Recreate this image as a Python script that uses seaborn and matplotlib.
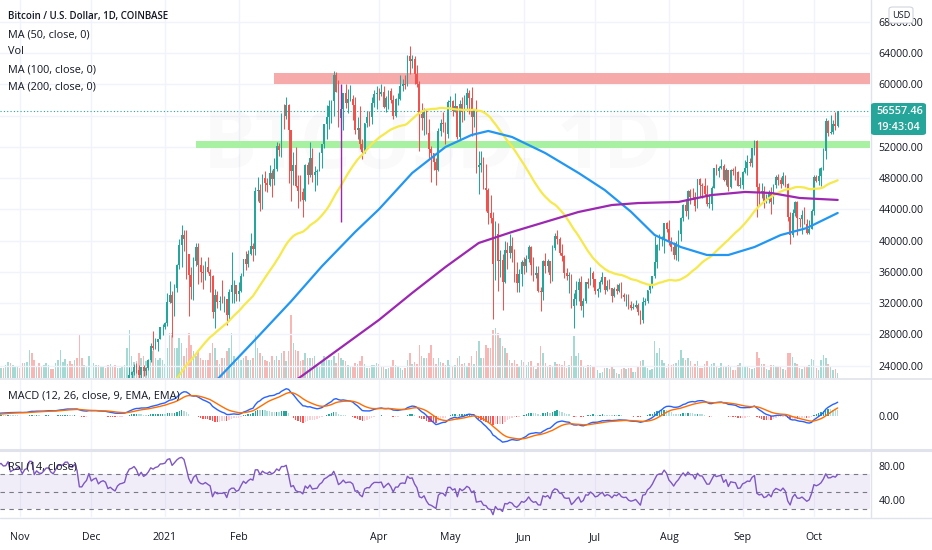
import numpy as np
import pandas as pd
import matplotlib
matplotlib.use("Agg")
import matplotlib.pyplot as plt
import matplotlib.dates as mdates
from matplotlib.patches import Rectangle, FancyBboxPatch
from matplotlib.lines import Line2D
import seaborn as sns

# ---------------- data (daily candles, Coinbase BTC/USD) ----------------
START_DATE = "2020-10-01"
FIRST_OPEN = 10790.0

close_2020_10 = [10620,10570,10550,10670,10790,10600,10670,10920,11060,11300,
                 11380,11540,11430,11430,11510,11330,11370,11510,11750,11920,
                 12820,12990,12930,13120,13040,13070,13650,13280,13460,13560,13800]
high_2020_10 = [10920,10670,10600,10690,10800,10800,10680,10940,11100,11490,
                11440,11710,11560,11560,11630,11540,11400,11520,11800,11990,
                13200,13190,13030,13160,13330,13250,13790,13850,13630,13650,14070]
low_2020_10 = [10430,10380,10500,10530,10650,10540,10560,10650,10830,11000,
               11240,11220,11280,11260,11270,11230,11220,11330,11400,11690,
               11900,12700,12740,12900,12900,12780,13050,12950,12990,13110,13500]
vol_2020_10 = [12,11,9,8,10,11,10,12,12,9, 8,11,12,10,10,11,8,7,11,13,
               20,16,13,10,10,13,16,15,13,12,11]

close_2020_11 = [13760,13560,14030,14160,15590,15580,14830,15480,15330,15300,
                 15700,16290,16330,16070,15960,16730,17660,17800,17810,18680,
                 18700,18420,18370,19160,18730,17150,17140,17720,18180,19700]
high_2020_11 = [13880,13830,14070,14240,15760,15990,15770,15650,15830,15480,
                15960,16340,16480,16340,16170,16880,17860,18480,18150,18820,
                18960,18750,18770,19410,19480,19080,17450,18210,18350,19860]
low_2020_11 = [13580,13230,13530,13600,14130,15190,14350,14730,14840,15100,
               15270,15470,15970,15720,15770,15870,16550,17220,17350,17760,
               18330,17610,18000,18060,18600,16330,16500,16880,17530,18180]
vol_2020_11 = [10,15,15,16,28,25,18,11,15,12, 13,15,13,9,9,15,18,28,16,19,
               14,17,14,18,20,43,20,13,11,22]

close_2020_12 = [18790,19220,19450,18700,19150,19360,19170,18320,18550,18250,
                 18030,18800,19170,19270,19440,21340,22800,23130,23860,23480,
                 22730,23820,23250,23720,24690,26440,26250,27040,27370,28890,28990]
high_2020_12 = [19920,19320,19590,19540,19180,19420,19420,19300,18640,18560,
                18300,18950,19420,19350,19570,21500,23770,23290,24170,24300,
                24100,23840,24100,23800,24800,26870,28420,27500,27400,28990,29310]
low_2020_12 = [18120,18580,18900,18590,18520,18920,18900,18200,17620,17950,
               17570,18000,18700,19000,19050,19280,21220,22350,22800,23060,
               21900,22370,22670,22740,23450,24500,25950,26100,25900,27340,27850]
vol_2020_12 = [27,15,13,13,12,11,10,13,14,12, 13,10,10,12,13,30,48,22,16,17,
               25,20,22,17,13,22,27,20,18,20,18]

close_2021_01 = [29410,32190,33000,31990,33950,36840,39470,40670,40240,38240,
                 35550,34010,37390,39150,36830,36030,35820,36630,36020,35470,
                 30850,33010,32100,32290,32260,32510,30430,33420,34270,34320,33110]
high_2021_01 = [29600,33300,34800,33600,34500,36950,40200,41950,41400,41400,
                38300,36600,37850,39700,39650,37900,36850,37400,37850,36400,
                35600,33850,33500,32950,34900,32950,32570,33750,38500,34900,34350]
low_2021_01 = [28700,29000,31990,27700,30400,33390,36300,36600,38700,35100,
               30300,32500,32400,36700,34400,34700,33850,34900,35900,33400,
               30100,28850,31400,31050,31950,30850,29250,29850,31950,32000,32200]
vol_2021_01 = [14,30,45,45,30,30,40,35,22,30, 45,33,27,22,27,20,18,18,18,25,
               35,30,18,14,20,20,27,30,45,22,16]

close_2021_02 = [33530,35510,37660,36950,38300,39260,38900,46400,46490,44840,
                 47980,47380,47160,48590,47930,49180,52160,51630,55920,55910,
                 57410,54120,48890,49680,47020,46300,46200,45160]
high_2021_02 = [34700,35900,37700,38600,38750,40950,39700,46800,48200,47300,
                48500,48900,48000,49700,49000,50600,52600,52500,56300,57500,
                58350,57500,54200,51400,51950,48400,48400,46700]
low_2021_02 = [32300,33400,35400,36200,36600,38200,37400,38200,45000,43750,
               44000,46300,46200,47000,45600,47100,48900,50800,50700,54300,
               55600,47400,45000,47100,46800,44150,45100,43000]
vol_2021_02 = [20,18,20,22,18,18,20,43,30,25, 22,18,17,16,22,18,22,18,25,27,
               17,27,63,35,28,27,17,18]

close_2021_03 = [49620,48420,50540,48420,48760,48900,51200,52320,54900,55850,
                 57290,57830,61190,59000,55630,56820,58870,57650,58070,58130,
                 57380,54110,54370,52300,51310,55070,55840,55780,57630,58770,58800]
high_2021_03 = [49800,50100,52600,51800,49500,49200,51400,52400,54900,57400,
                58000,58000,61700,61600,60600,56900,58950,60100,59400,59900,
                58600,58400,55800,57200,53000,55100,56600,56600,58400,59300,59800]
low_2021_03 = [45000,47200,48100,47500,46300,47100,48900,49300,51850,53050,
               54300,55100,55900,59000,54600,53300,54150,57000,56300,57900,
               55450,53700,53000,51700,50400,51250,54500,54700,54950,57100,56900]
vol_2021_03 = [25,20,20,20,22,14,12,17,22,18, 18,18,22,15,25,20,18,17,13,12,
               12,15,14,17,22,14,10,10,13,13,15]

close_2021_04 = [58740,58970,57070,58210,59120,57990,56000,58090,58090,59770,
                 59990,59860,63580,62960,63220,61370,60080,56250,55720,56480,
                 53800,51700,51150,50110,49070,54020,55040,54860,53580,57750]
high_2021_04 = [59500,60100,59800,58500,59300,59500,58700,58200,58900,61200,
                60700,61200,63800,64900,63800,63600,62500,60400,57600,57000,
                56800,55500,52100,51200,50600,54400,55500,56400,55200,57950]
low_2021_04 = [57950,58450,57000,56450,56800,57600,55500,55800,57300,58050,
               59200,59450,59850,61300,62050,60000,59600,51500,54200,53500,
               53600,50500,47500,49000,47050,48850,53350,53900,52400,53100]
vol_2021_04 = [14,12,12,9,10,12,18,13,11,10, 8,10,18,25,14,16,14,33,22,20,
               20,25,33,20,14,20,16,15,13,18]

close_2021_05 = [57830,56610,57210,53240,57500,56440,57380,58930,58270,55860,
                 56750,49470,49700,49920,46780,46450,43550,42920,37000,40780,
                 37320,37520,34720,38800,38360,39290,38450,35690,34620,35680,37310]
high_2021_05 = [58500,57950,58950,57250,58000,58400,58650,59550,59300,59600,
                56900,58000,51450,51500,50700,49800,46700,45800,43600,42500,
                42200,38800,38300,39950,39800,40900,40400,38900,37250,36400,37500]
low_2021_05 = [56900,56000,56500,53000,52900,55200,55400,56900,56200,53400,
               54500,48700,46000,48800,46600,43800,42100,42200,30000,35000,
               33500,35300,31100,34600,36400,37800,37200,34700,33400,33450,34200]
vol_2021_05 = [13,12,13,20,22,14,15,12,15,22, 14,27,37,20,20,33,30,30,48,50,
               45,40,32,30,25,18,15,18,14,11,18]

close_2021_06 = [36690,37580,39190,36880,35530,35800,33590,33400,37390,36690,
                 37340,35550,39100,40530,40150,38350,38060,35820,35490,35620,
                 31640,32510,33690,34660,31590,32250,34650,34470,35870,35040]
high_2021_06 = [37900,38200,39450,39250,37900,36800,36750,34050,37550,38400,
                37650,37400,39400,41000,41300,40500,39550,38200,36450,36000,
                35750,33300,34850,35200,35450,32700,34700,35250,36600,36100]
low_2021_06 = [35700,35950,37200,35600,34800,35250,33400,31000,32400,35800,
               36000,34600,34800,38750,39500,38100,37400,35200,34900,33300,
               31300,28800,31700,32300,31050,30150,32050,33950,34300,34050]
vol_2021_06 = [16,13,16,17,12,9,15,32,25,15, 12,13,12,16,14,14,13,17,10,13,
               22,42,22,25,18,11,10,13,13,11]

close_2021_07 = [33520,33800,34690,35290,33690,34230,33860,32880,33810,33510,
                 34260,33090,32730,32820,31780,31390,31530,31780,30840,29790,
                 32140,32290,33640,34270,35410,37280,39460,40020,40020,42210,41490]
high_2021_07 = [35050,33900,34950,35950,35300,35000,35050,33900,34050,34400,
                34600,34650,33300,33100,33150,32200,31950,32400,31950,31100,
                32800,32600,33650,34500,35450,40550,39500,40900,40600,42300,42400]
low_2021_07 = [33100,32800,33400,34450,33200,33550,33750,32150,32800,33100,
               33350,32700,32250,31650,31200,31100,31200,31350,30450,29300,
               29500,31750,32050,33250,33900,35200,36450,38800,39300,38400,41050]
vol_2021_07 = [12,8,5,6,10,10,9,12,9,5, 4,9,10,9,10,10,6,6,11,17,
               18,12,10,8,9,37,25,30,18,15,10]

close_2021_08 = [39860,39150,38200,39720,40870,42840,44610,43820,46290,45590,
                 45560,44430,47830,47100,47040,45940,44690,44740,46760,49340,
                 48900,49320,49550,47710,48970,46860,49080,48900,48800,46990,47150]
high_2021_08 = [42600,40450,39750,39950,41400,43000,44700,45300,46450,46650,
                46750,46200,47900,48000,47400,48050,47150,46000,47000,49350,
                49800,49500,50500,49850,49250,49000,49200,49300,49600,48900,48200]
low_2021_08 = [39450,38700,37600,37500,37350,39900,42450,43100,42800,44700,
               45350,43800,44200,45600,45500,45750,44400,44200,43950,46700,
               48350,48100,49100,47600,47150,46400,46700,48450,47800,46950,46750]
vol_2021_08 = [14,13,14,15,18,28,20,18,20,17, 12,14,17,10,10,14,17,12,14,15,
               12,10,15,12,12,13,12,8,8,13,15]

close_2021_09 = [48840,49280,50040,49940,51790,52700,46860,46080,46400,44850,
                 45160,46060,44960,47110,48130,47760,47300,48310,47260,43010,
                 40700,43570,44890,42830,42720,43210,42170,41030,41520,43790]
high_2021_09 = [48950,50350,51000,50550,51900,52850,52900,47350,47350,47000,
                45900,46450,46850,47250,48450,48500,48150,48800,48350,47350,
                43600,44000,45000,45000,42950,43900,44300,42800,42600,44100]
low_2021_09 = [46550,48600,48350,49500,49400,50950,43000,44400,45500,44200,
               44800,44750,43400,44700,46700,47050,46750,47050,46850,42500,
               39600,40500,43100,40700,41700,40800,42100,40900,40800,41450]
vol_2021_09 = [12,12,12,10,9,10,26,20,14,14, 9,8,13,13,11,12,11,9,8,25,
               25,21,15,14,10,9,11,12,13,19]

close_2021_10 = [48120,47650,48230,49250,51490,55340,53800,53950,54950,54670,56557.46]
high_2021_10 = [48450,48350,49300,49450,51850,55750,55400,56100,55450,56500,56650]
low_2021_10 = [43300,47450,47150,46950,49050,50450,53400,53700,53700,54100,54500]
vol_2021_10 = [18,10,8,18,23,20,14,12,8,9,5]

# moving-average lines (sample dates / values)
ma100_dates = ["2021-01-15","2021-01-24","2021-02-07","2021-02-23","2021-03-08",
               "2021-03-22","2021-04-01","2021-04-15","2021-04-29","2021-05-10",
               "2021-05-17","2021-05-27","2021-06-10","2021-06-24","2021-07-05",
               "2021-07-16","2021-07-26","2021-08-06","2021-08-17","2021-08-26",
               "2021-09-06","2021-09-17","2021-09-28","2021-10-11"]
ma100_vals = [19600,22530,27000,32200,36700,41100,44000,48650,51980,53520,
              54030,53260,51200,48650,46470,43700,40710,39170,38150,38150,
              39170,40700,41600,43530]
ma200_dates = ["2021-02-15","2021-02-27","2021-04-01","2021-04-15","2021-04-29",
               "2021-05-13","2021-05-27","2021-06-10","2021-06-24","2021-07-08",
               "2021-07-19","2021-08-05","2021-08-19","2021-09-02","2021-09-13",
               "2021-09-25","2021-10-11"]
ma200_vals = [20000,22530,29830,33290,36610,39690,41100,42380,43660,44550,
              44800,44940,45830,46220,46090,45450,45200]

# drawn objects
red_zone = ("2021-02-16", 60000, 61500)
green_zone = ("2021-01-14", 51900, 52800)
vline_drawing = ("2021-03-16", 42400, 60000)
last_price = 56557.46
countdown = "19:43:04"

month_ticks = ["2020-11-01","2020-12-01","2021-01-01","2021-02-01","2021-04-01",
               "2021-05-01","2021-06-01","2021-07-01","2021-08-01","2021-09-01","2021-10-01"]
month_labels = ["Nov","Dec","2021","Feb","Apr","May","Jun","Jul","Aug","Sep","Oct"]
price_ticks = [24000,28000,32000,36000,40000,44000,48000,52000,56000,60000,64000,68000]
hidden_price_labels = [56000]   # covered by the last-price tag on the chart

# ---------------- assemble ----------------
months = ["2020_10","2020_11","2020_12","2021_01","2021_02","2021_03","2021_04",
          "2021_05","2021_06","2021_07","2021_08","2021_09","2021_10"]
g = globals()
for m in months:
    assert len(g["close_"+m]) == len(g["high_"+m]) == len(g["low_"+m]) == len(g["vol_"+m]), m
closes = np.array(sum([g["close_"+m] for m in months], []), float)
highs = np.array(sum([g["high_"+m] for m in months], []), float)
lows = np.array(sum([g["low_"+m] for m in months], []), float)
vols = np.array(sum([g["vol_"+m] for m in months], []), float)
dates = pd.date_range(START_DATE, periods=len(closes), freq="D")
opens = np.concatenate([[FIRST_OPEN], closes[:-1]])
xn = mdates.date2num(dates)

s_close = pd.Series(closes, index=dates)
ma50 = s_close.rolling(50).mean()
ema12 = s_close.ewm(span=12, adjust=False).mean()
ema26 = s_close.ewm(span=26, adjust=False).mean()
macd = ema12 - ema26
signal = macd.ewm(span=9, adjust=False).mean()
hist = macd - signal
delta = s_close.diff()
up = delta.clip(lower=0).ewm(alpha=1/14, adjust=False).mean()
dn = (-delta.clip(upper=0)).ewm(alpha=1/14, adjust=False).mean()
rsi = 100 - 100 / (1 + up / dn)

# ---------------- style ----------------
sns.set_theme(style="white")
plt.rcParams['font.family'] = ['Open Sans', 'DejaVu Sans']
TXT = "#131722"
UP, DOWN = "#26A69A", "#EF5350"
GRID = "#F0F3FA"
SEP = "#E0E3EB"

W, H = 932, 550
fig = plt.figure(figsize=(W / 100, H / 100), dpi=100)
fig.patch.set_facecolor("white")

def add_ax(l, t, r, b):
    return fig.add_axes([l / W, 1 - b / H, (r - l) / W, (b - t) / H])

ax = add_ax(0, 0, 870, 378)
axv = ax.twinx()
axm = add_ax(0, 380, 870, 449)
axr = add_ax(0, 451, 870, 517)

nov1 = mdates.date2num(pd.Timestamp("2020-11-01"))
xlim = (nov1 - 8.4, nov1 + 357.6)
mt = mdates.date2num(pd.to_datetime(month_ticks))

for a in (ax, axv, axm, axr):
    a.set_xlim(*xlim)
    for sp in a.spines.values():
        sp.set_visible(False)
    a.tick_params(axis="x", bottom=False, labelbottom=False)
for a in (ax, axm, axr):
    for m in mt:
        a.axvline(m, color=GRID, lw=1, zorder=0)
    a.tick_params(axis="y", left=False, labelleft=False, right=True, labelright=True,
                  length=0, pad=6, labelsize=7.6, labelcolor=TXT)

# ---- main price panel ----
ax.set_ylim(22400, 70800)
ax.set_yticks(price_ticks)
ax.set_yticklabels(["" if v in hidden_price_labels else f"{v:.2f}" for v in price_ticks])
for p in price_ticks:
    ax.axhline(p, color=GRID, lw=1, zorder=0)

# volume (twin, bottom of pane)
is_up = closes >= opens
vcol = np.where(is_up, "#26A69A", "#EF5350")
axv.bar(xn, vols, width=0.65, color=vcol, alpha=0.42, linewidth=0)
axv.set_ylim(0, 378)
axv.set_yticks([])
axv.tick_params(axis="y", right=False, labelright=False)
ax.set_zorder(axv.get_zorder() + 1)
ax.patch.set_visible(False)

# zones
for (d0, y0, y1), col in ((red_zone, "#F7AAAA"), (green_zone, "#A8F0A2")):
    x0 = mdates.date2num(pd.Timestamp(d0))
    ax.add_patch(Rectangle((x0, y0), xlim[1] - x0, y1 - y0, facecolor=col,
                           edgecolor="none", zorder=1))

# faint watermark
ax.text(0.497, 0.61, "BTCUSD, 1D", transform=ax.transAxes, ha="center", va="center",
        fontsize=58, color=TXT, alpha=0.018, fontweight="bold", zorder=0)

# candles
ccol = np.where(is_up, UP, DOWN)
wick_lo = np.minimum(lows, np.minimum(opens, closes))
wick_hi = np.maximum(highs, np.maximum(opens, closes))
ax.vlines(xn, wick_lo, wick_hi, colors=ccol, lw=0.75, zorder=3)
body_lo = np.minimum(opens, closes)
body_h = np.maximum(np.abs(closes - opens), 60)
ax.bar(xn, body_h, bottom=body_lo, width=0.72, color=ccol, linewidth=0, zorder=3)

# moving averages
sns.lineplot(x=xn, y=ma50.values, ax=ax, color="#F5E94B", linewidth=1.6, zorder=4)
sns.lineplot(x=mdates.date2num(pd.to_datetime(ma100_dates)), y=ma100_vals, ax=ax,
             color="#2196F3", linewidth=1.6, zorder=4)
sns.lineplot(x=mdates.date2num(pd.to_datetime(ma200_dates)), y=ma200_vals, ax=ax,
             color="#9C27B0", linewidth=1.6, zorder=4)

# drawn vertical line
vd, vy0, vy1 = vline_drawing
ax.vlines(mdates.date2num(pd.Timestamp(vd)), vy0, vy1, colors="#9C27B0", lw=1, zorder=4)

# last price line
ax.axhline(last_price, color=UP, lw=0.8, ls=(0, (1, 2)), zorder=2)
ax.set_xlabel(""); ax.set_ylabel("")

# ---- MACD ----
vis = (xn >= xlim[0])
P = macd[vis].max()
axm.set_ylim(-P * 34 / 28, P * 37 / 28)
axm.set_yticks([0])
axm.set_yticklabels(["0.00"])
hprev = hist.shift(1).values
hv = hist.values
hcol = np.where(hv >= 0, np.where(hv > hprev, "#26A69A", "#B2DFDB"),
                np.where(hv < hprev, "#FF5252", "#FFCDD2"))
axm.bar(xn, hv, width=0.6, color=hcol, linewidth=0, zorder=2)
sns.lineplot(x=xn, y=macd.values, ax=axm, color="#2962FF", linewidth=1, zorder=3)
sns.lineplot(x=xn, y=signal.values, ax=axm, color="#FF6D00", linewidth=1, zorder=3)
axm.set_xlabel(""); axm.set_ylabel("")

# ---- RSI ----
axr.set_ylim(20.5, 97)
axr.set_yticks([40, 80])
axr.set_yticklabels(["40.00", "80.00"])
axr.axhspan(30, 70, color="#7E57C2", alpha=0.1, lw=0, zorder=0)
for lvl in (30, 50, 70):
    axr.axhline(lvl, color="#787B86", lw=0.8, ls=(0, (4, 4)), zorder=1)
sns.lineplot(x=xn, y=rsi.values, ax=axr, color="#7E57C2", linewidth=1, zorder=3)
axr.set_xlabel(""); axr.set_ylabel("")
axr.set_xticks(mt)
axr.set_xticklabels(month_labels)
axr.tick_params(axis="x", bottom=False, labelbottom=True, length=0, pad=11,
                labelsize=7.6, labelcolor=TXT)

# ---- separators ----
def hline_px(y, x0, x1, lw):
    fig.add_artist(Line2D([x0 / W, x1 / W], [1 - y / H] * 2, color=SEP, lw=lw,
                          transform=fig.transFigure))
hline_px(379, 0, W, 1.2)
hline_px(450, 0, W, 2.2)
hline_px(517.5, 0, W, 1.0)
fig.add_artist(Line2D([870.5 / W] * 2, [1, 1 - 517 / H], color=SEP, lw=1,
                      transform=fig.transFigure))

# ---- legends / labels ----
def ftext(px, py, s, **kw):
    fig.text(px / W, 1 - py / H, s, **kw)

ftext(8, 17, "Bitcoin / U.S. Dollar, 1D, COINBASE", fontsize=7.0, color=TXT,
      va="center", fontweight="semibold")
for yy, s in ((35, "MA (50, close, 0)"), (52, "Vol"), (70, "MA (100, close, 0)"),
              (87, "MA (200, close, 0)")):
    ftext(8, yy, s, fontsize=7.8, color=TXT, va="center")
ftext(8, 396, "MACD (12, 26, close, 9, EMA, EMA)", fontsize=7.8, color=TXT, va="center")
ftext(8, 467, "RSI (14, close)", fontsize=7.8, color=TXT, va="center")

# price tag
fig.add_artist(FancyBboxPatch((871 / W, 1 - 135 / H), 55 / W, 32 / H,
                              boxstyle="round,pad=0,rounding_size=0.004",
                              transform=fig.transFigure, facecolor=UP,
                              edgecolor="none", zorder=5))
ftext(876, 111, f"{last_price:.2f}", fontsize=7.8, color="white", va="center",
      fontweight="semibold", zorder=6)
ftext(876, 127, countdown, fontsize=7.8, color="white", va="center",
      fontweight="semibold", zorder=6)

# USD box
fig.add_artist(FancyBboxPatch((889 / W, 1 - 23 / H), 24 / W, 16 / H,
                              boxstyle="round,pad=0,rounding_size=0.004",
                              transform=fig.transFigure, facecolor="white",
                              edgecolor="#D1D4DC", lw=0.8, zorder=5))
ftext(901, 15, "USD", fontsize=6.6, color=TXT, va="center", ha="center", zorder=6)

fig.savefig("out.png", dpi=100, facecolor="white")
